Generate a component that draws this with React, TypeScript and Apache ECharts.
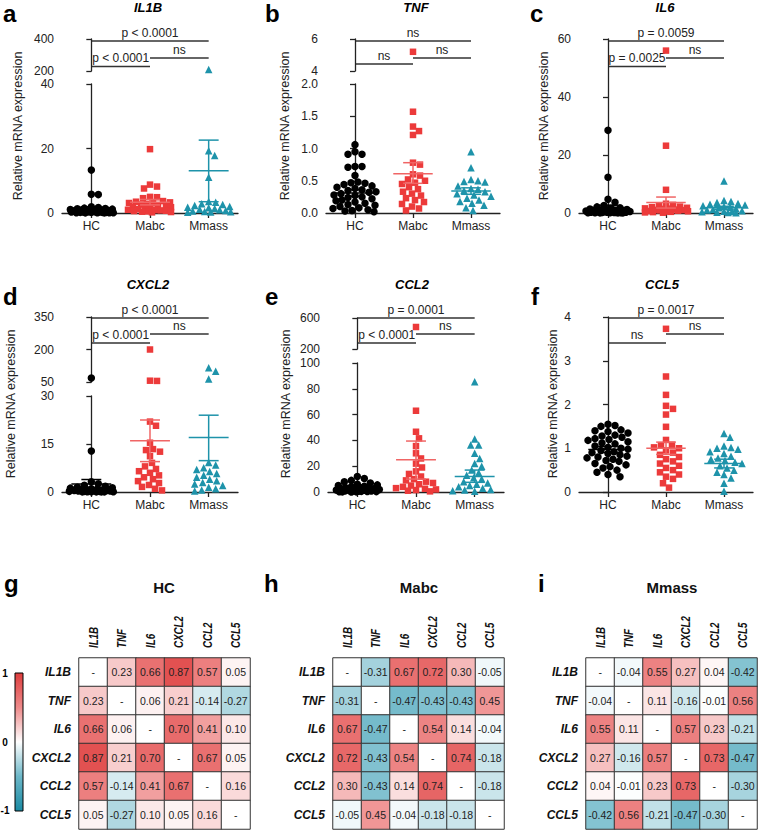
import React, { useEffect, useRef } from 'react';
import * as echarts from 'echarts';

const FONT = 'Liberation Sans, Arial, Helvetica, sans-serif';

const GROUPS = ['HC', 'Mabc', 'Mmass'];
const GENES = ['IL1B', 'TNF', 'IL6', 'CXCL2', 'CCL2', 'CCL5'];

// ---------- IL1B ----------
const IL1B_HC = [13.3, 5.8, 5.7, 1.9, 1.7, 1.5, 1.4, 1.3, 1.2, 1.1, 1.0, 1.0, 0.9, 0.9, 0.8, 0.8, 0.7, 0.7, 0.6, 0.6, 0.5, 0.5, 0.5, 0.4, 0.4, 0.4, 0.3, 0.3, 0.3, 0.2, 0.2, 0.2, 0.2, 0.1, 0.1, 0.1, 0.1, 0.05, 0.05];
const IL1B_MABC = [19.8, 8.8, 8.2, 7.6, 5.0, 4.9, 4.6, 3.7, 3.5, 3.3, 3.1, 3.0, 2.8, 2.6, 2.4, 2.2, 2.0, 1.8, 1.6, 1.4, 1.2, 1.0, 0.9, 0.8, 0.7, 0.6, 0.5, 0.4, 0.3, 0.2];
const IL1B_MMASS = [210, 19.3, 17.8, 11.1, 3.6, 3.3, 2.9, 2.6, 2.3, 2.0, 1.8, 1.6, 1.4, 1.2, 1.0, 0.8, 0.6, 0.5, 0.4, 0.3, 0.2];
const IL1B_MEAN = [1.4, 3.3, 13.1];
const IL1B_LO = [0.9, 2.5, 3.5];
const IL1B_HI = [1.9, 4.2, 22.6];
const IL1B_TICKS_LOW = [0, 20, 40];
const IL1B_TICKS_HIGH = [200, 400];
const IL1B_P = ['p < 0.0001', 'p < 0.0001', 'ns'];

// ---------- TNF ----------
const TNF_HC = [1.06, 0.95, 0.91, 0.91, 0.72, 0.72, 0.71, 0.58, 0.48, 0.47, 0.46, 0.44, 0.42, 0.40, 0.38, 0.36, 0.35, 0.33, 0.32, 0.30, 0.28, 0.27, 0.25, 0.24, 0.22, 0.20, 0.19, 0.17, 0.15, 0.13, 0.12, 0.10, 0.08, 0.07, 0.05, 0.04, 0.03, 0.02];
const TNF_MABC = [5.2, 1.57, 1.34, 1.27, 1.21, 0.78, 0.75, 0.60, 0.58, 0.52, 0.50, 0.47, 0.45, 0.40, 0.37, 0.33, 0.30, 0.27, 0.23, 0.20, 0.17, 0.14, 0.10, 0.07, 0.04];
const TNF_MMASS = [0.95, 0.70, 0.52, 0.50, 0.49, 0.48, 0.42, 0.38, 0.37, 0.35, 0.33, 0.30, 0.28, 0.26, 0.23, 0.20, 0.18, 0.15, 0.12, 0.08, 0.04];
const TNF_MEAN = [0.31, 0.61, 0.34];
const TNF_LO = [0.26, 0.46, 0.29];
const TNF_HI = [0.36, 0.78, 0.39];
const TNF_TICKS_LOW = [0, 0.5, 1.0, 1.5, 2.0];
const TNF_TICKS_HIGH = [4, 6];
const TNF_P = ['ns', 'ns', 'ns'];

// ---------- IL6 ----------
const IL6_HC = [28.5, 12.3, 4.7, 3.7, 2.6, 2.1, 1.8, 1.6, 1.4, 1.2, 1.1, 1.0, 0.9, 0.8, 0.8, 0.7, 0.6, 0.6, 0.5, 0.5, 0.4, 0.4, 0.3, 0.3, 0.3, 0.2, 0.2, 0.2, 0.1, 0.1, 0.1, 0.1, 0.05, 0.05, 0.05];
const IL6_MABC = [56, 23.2, 8.0, 3.2, 2.8, 2.5, 2.2, 2.0, 1.8, 1.6, 1.5, 1.4, 1.2, 1.1, 1.0, 0.9, 0.8, 0.7, 0.6, 0.5, 0.4, 0.3, 0.2, 0.1];
const IL6_MMASS = [11.0, 4.3, 4.0, 3.6, 3.3, 3.0, 2.8, 2.5, 2.2, 2.0, 1.8, 1.5, 1.2, 1.0, 0.8, 0.6, 0.5, 0.4, 0.3, 0.2, 0.1];
const IL6_MEAN = [1.9, 3.6, 1.8];
const IL6_LO = [1.1, 1.7, 1.3];
const IL6_HI = [2.7, 5.5, 2.3];
const IL6_TICKS = [0, 20, 40, 60];
const IL6_P = ['p = 0.0059', 'p = 0.0025', 'ns'];

// ---------- CXCL2 ----------
const CXCL2_HC = [68, 12.8, 3.2, 2.6, 2.1, 1.8, 1.5, 1.3, 1.2, 1.0, 0.9, 0.8, 0.7, 0.6, 0.5, 0.5, 0.4, 0.4, 0.3, 0.3, 0.2, 0.2, 0.2, 0.1, 0.1, 0.1, 0.05, 0.05, 0.05, 0.05];
const CXCL2_MABC = [200, 56, 55, 22, 20.7, 15.4, 13.4, 13.1, 12.6, 11.2, 9.1, 8.0, 7.2, 6.5, 6.0, 5.2, 4.6, 4.0, 3.4, 2.8, 2.2, 1.6, 1.0, 0.5];
const CXCL2_MMASS = [116, 100, 64, 9.2, 8.4, 7.6, 7.0, 6.4, 5.8, 5.2, 4.6, 4.0, 3.5, 3.0, 2.5, 2.0, 1.5, 1.0, 0.6, 0.3];
const CXCL2_MEAN = [2.5, 16, 17];
const CXCL2_LO = [1.0, 9.5, 9.8];
const CXCL2_HI = [3.9, 22.5, 24];
const CXCL2_TICKS_LOW = [0, 15, 30];
const CXCL2_TICKS_HIGH = [50, 200, 350];
const CXCL2_P = ['p < 0.0001', 'p < 0.0001', 'ns'];

// ---------- CCL2 ----------
const CCL2_HC = [12, 10.5, 9, 8, 7, 6, 5.5, 5, 4.5, 4, 3.5, 3.2, 3, 2.6, 2.4, 2.1, 1.9, 1.6, 1.4, 1.2, 1.0, 0.9, 0.8, 0.6, 0.5, 0.4, 0.3, 0.2, 0.1, 0.1, 0.05];
const CCL2_MABC = [484, 63, 46.7, 41.6, 35.6, 30, 26, 22, 19, 16, 14, 12, 10, 9, 8, 7, 6, 5, 4, 3, 2.5, 2, 1.5, 1, 0.5];
const CCL2_MMASS = [85.5, 41, 36.4, 36.4, 30, 26, 22, 20, 17, 15, 13, 11, 10, 8, 7, 6, 5, 4, 3, 2, 1.5, 1, 0.5];
const CCL2_MEAN = [3, 25, 12];
const CCL2_LO = [2.1, 10, 7.5];
const CCL2_HI = [3.9, 39.5, 17];
const CCL2_TICKS_LOW = [0, 20, 40, 60, 80, 100];
const CCL2_TICKS_HIGH = [200, 600];
const CCL2_P = ['p = 0.0001', 'p < 0.0001', 'ns'];

// ---------- CCL5 ----------
const CCL5_HC = [1.55, 1.52, 1.50, 1.42, 1.40, 1.38, 1.35, 1.30, 1.28, 1.25, 1.22, 1.20, 1.18, 1.15, 1.12, 1.10, 1.05, 1.02, 1.00, 0.98, 0.95, 0.92, 0.90, 0.88, 0.85, 0.82, 0.80, 0.78, 0.75, 0.72, 0.70, 0.65, 0.62, 0.58, 0.55, 0.50, 0.45, 0.40, 0.35];
const CCL5_MABC = [3.73, 2.64, 2.22, 1.97, 1.90, 1.77, 1.49, 1.19, 1.08, 1.07, 1.02, 1.0, 0.95, 0.9, 0.85, 0.8, 0.75, 0.7, 0.65, 0.6, 0.55, 0.5, 0.45, 0.4, 0.35, 0.3, 0.2, 0.1];
const CCL5_MMASS = [1.34, 1.25, 1.05, 1.02, 1.0, 0.98, 0.92, 0.88, 0.82, 0.78, 0.75, 0.72, 0.68, 0.65, 0.6, 0.55, 0.5, 0.45, 0.4, 0.32, 0.2, 0.02];
const CCL5_MEAN = [0.97, 1.0, 0.65];
const CCL5_LO = [0.9, 0.86, 0.55];
const CCL5_HI = [1.04, 1.14, 0.75];
const CCL5_TICKS = [0, 1, 2, 3, 4];
const CCL5_P = ['p = 0.0017', 'ns', 'ns'];

// ---------- correlation matrices (rows/cols in GENES order, null = diagonal) ----------
const CORR_HC = [
  [null, 0.23, 0.66, 0.87, 0.57, 0.05],
  [0.23, null, 0.06, 0.21, -0.14, -0.27],
  [0.66, 0.06, null, 0.70, 0.41, 0.10],
  [0.87, 0.21, 0.70, null, 0.67, 0.05],
  [0.57, -0.14, 0.41, 0.67, null, 0.16],
  [0.05, -0.27, 0.10, 0.05, 0.16, null],
];
const CORR_MABC = [
  [null, -0.31, 0.67, 0.72, 0.30, -0.05],
  [-0.31, null, -0.47, -0.43, -0.43, 0.45],
  [0.67, -0.47, null, 0.54, 0.14, -0.04],
  [0.72, -0.43, 0.54, null, 0.74, -0.18],
  [0.30, -0.43, 0.14, 0.74, null, -0.18],
  [-0.05, 0.45, -0.04, -0.18, -0.18, null],
];
const CORR_MMASS = [
  [null, -0.04, 0.55, 0.27, 0.04, -0.42],
  [-0.04, null, 0.11, -0.16, -0.01, 0.56],
  [0.55, 0.11, null, 0.57, 0.23, -0.21],
  [0.27, -0.16, 0.57, null, 0.73, -0.47],
  [0.04, -0.01, 0.23, 0.73, null, -0.30],
  [-0.42, 0.56, -0.21, -0.47, -0.30, null],
];
const COLORBAR_TICKS = ['1', '0', '-1'];

// ---------- styling ----------
const PT_COLORS = ['#000000', '#EC3A3A', '#1E93AA'];
const ERR_COLORS = ['#000000', '#F06565', '#1E93AA'];
const SYMBOLS = ['circle', 'rect', 'triangle'];
const SIZES = [7.5, 6.5, 7.5];
const HEAT_COLORS = ['#1a8aa3', '#6cb7c8', '#ffffff', '#ee8a8a', '#de3d3d'];
const INK = '#222';

type Seg = { min: number; max: number; top: number; bottom: number; ticks: number[]; dec: number };
type Panel = {
  letter: string; gene: string; left: number; width: number; segs: Seg[];
  data: number[][]; mean: number[]; lo: number[]; hi: number[]; p: string[];
  titleX: number; titleY: number; letterX: number; letterY: number;
  nameX: number; nameY: number; bTop: number; bLeft: number; bRight: number;
};

const PANELS: Panel[] = [
  {
    letter: 'a', gene: 'IL1B', left: 62, width: 176,
    segs: [{ min: 0, max: 40, top: 84, bottom: 213, ticks: IL1B_TICKS_LOW, dec: 0 }, { min: 200, max: 400, top: 39, bottom: 71, ticks: IL1B_TICKS_HIGH, dec: 0 }],
    data: [IL1B_HC, IL1B_MABC, IL1B_MMASS], mean: IL1B_MEAN, lo: IL1B_LO, hi: IL1B_HI, p: IL1B_P,
    titleX: 148, titleY: 7.5, letterX: 3, letterY: 13, nameX: 18, nameY: 126, bTop: 41, bLeft: 66.5, bRight: 58,
  },
  {
    letter: 'b', gene: 'TNF', left: 326, width: 174,
    segs: [{ min: 0, max: 2, top: 84, bottom: 213, ticks: TNF_TICKS_LOW, dec: 1 }, { min: 4, max: 6, top: 39, bottom: 71, ticks: TNF_TICKS_HIGH, dec: 0 }],
    data: [TNF_HC, TNF_MABC, TNF_MMASS], mean: TNF_MEAN, lo: TNF_LO, hi: TNF_HI, p: TNF_P,
    titleX: 416, titleY: 7.5, letterX: 265, letterY: 13, nameX: 285, nameY: 126, bTop: 41, bLeft: 64, bRight: 58,
  },
  {
    letter: 'c', gene: 'IL6', left: 579, width: 174,
    segs: [{ min: 0, max: 60, top: 39, bottom: 213, ticks: IL6_TICKS, dec: 0 }],
    data: [IL6_HC, IL6_MABC, IL6_MMASS], mean: IL6_MEAN, lo: IL6_LO, hi: IL6_HI, p: IL6_P,
    titleX: 665, titleY: 7.5, letterX: 530, letterY: 13, nameX: 544, nameY: 126, bTop: 41, bLeft: 66.5, bRight: 58,
  },
  {
    letter: 'd', gene: 'CXCL2', left: 62, width: 176,
    segs: [{ min: 0, max: 30, top: 396, bottom: 492, ticks: CXCL2_TICKS_LOW, dec: 0 }, { min: 50, max: 350, top: 317, bottom: 382, ticks: CXCL2_TICKS_HIGH, dec: 0 }],
    data: [CXCL2_HC, CXCL2_MABC, CXCL2_MMASS], mean: CXCL2_MEAN, lo: CXCL2_LO, hi: CXCL2_HI, p: CXCL2_P,
    titleX: 148, titleY: 284.5, letterX: 3, letterY: 296, nameX: 11, nameY: 404, bTop: 318, bLeft: 343, bRight: 334,
  },
  {
    letter: 'e', gene: 'CCL2', left: 328, width: 176,
    segs: [{ min: 0, max: 100, top: 363, bottom: 492, ticks: CCL2_TICKS_LOW, dec: 0 }, { min: 200, max: 600, top: 318, bottom: 349, ticks: CCL2_TICKS_HIGH, dec: 0 }],
    data: [CCL2_HC, CCL2_MABC, CCL2_MMASS], mean: CCL2_MEAN, lo: CCL2_LO, hi: CCL2_HI, p: CCL2_P,
    titleX: 412, titleY: 284.5, letterX: 265, letterY: 296, nameX: 286, nameY: 404, bTop: 318, bLeft: 343, bRight: 334,
  },
  {
    letter: 'f', gene: 'CCL5', left: 579, width: 174,
    segs: [{ min: 0, max: 4, top: 317, bottom: 492, ticks: CCL5_TICKS, dec: 0 }],
    data: [CCL5_HC, CCL5_MABC, CCL5_MMASS], mean: CCL5_MEAN, lo: CCL5_LO, hi: CCL5_HI, p: CCL5_P,
    titleX: 662, titleY: 284.5, letterX: 531, letterY: 296, nameX: 553, nameY: 404, bTop: 318, bLeft: 343, bRight: 334,
  },
];

const HEATS = [
  { letter: 'g', title: 'HC', m: CORR_HC, left: 79, letterX: 4, titleX: 164 },
  { letter: 'h', title: 'Mabc', m: CORR_MABC, left: 333, letterX: 264, titleX: 419 },
  { letter: 'i', title: 'Mmass', m: CORR_MMASS, left: 586, letterX: 538, titleX: 672 },
];
const HEAT_TOP = 658;
const HEAT_SIZE = 171;

function swarm(values: number[], toPx: (v: number) => number, d: number, maxW: number): number[] {
  const placed: { x: number; y: number }[] = [];
  const order = values.map((_, i) => i).sort((a, b) => values[b] - values[a]);
  const offs = new Array(values.length).fill(0);
  const cands: number[] = [0];
  for (let k = 1; k <= maxW; k++) { cands.push(k); cands.push(-k); }
  for (const i of order) {
    const y = toPx(values[i]);
    let best = 0;
    let bestScore = -Infinity;
    for (const c of cands) {
      let minD = Infinity;
      for (const p of placed) {
        const dd = Math.hypot(p.x - c, p.y - y);
        if (dd < minD) minD = dd;
      }
      if (minD >= d) { best = c; break; }
      if (minD > bestScore + 0.5) { bestScore = minD; best = c; }
    }
    placed.push({ x: best, y });
    offs[i] = best;
  }
  return offs;
}

function txt(x: number, y: number, text: string, extra: any = {}, rotation = 0, scaleX = 1): any {
  return {
    type: 'text', x, y, rotation, scaleX, silent: true,
    style: { text, fontFamily: FONT, fontSize: 12, fill: INK, align: 'center', verticalAlign: 'middle', ...extra },
  };
}
function hline(x1: number, x2: number, y: number): any {
  return { type: 'line', silent: true, shape: { x1, y1: y, x2, y2: y }, style: { stroke: '#333', lineWidth: 1.3 } };
}

function buildOption(): any {
  const grid: any[] = [];
  const xAxis: any[] = [];
  const yAxis: any[] = [];
  const series: any[] = [];
  const graphic: any[] = [];
  const axisLineStyle = { color: INK, width: 1.3 };

  PANELS.forEach((p) => {
    const spacing = p.width / 3;
    const centers = [0, 1, 2].map((g) => p.left + spacing * (g + 0.5));
    const gIdx: number[] = [];
    p.segs.forEach((s, si) => {
      const gi = grid.length;
      gIdx.push(gi);
      grid.push({ left: p.left, top: s.top, width: p.width, height: s.bottom - s.top, containLabel: false });
      xAxis.push({
        gridIndex: gi, type: 'value', min: -0.5, max: 2.5, show: si === 0,
        axisLine: { show: true, lineStyle: axisLineStyle },
        axisTick: { show: true, length: 5, customValues: [0, 1, 2], lineStyle: axisLineStyle },
        axisLabel: {
          customValues: [0, 1, 2], formatter: (v: number) => GROUPS[Math.round(v)] || '',
          margin: 7, fontSize: 12, color: INK, fontFamily: FONT,
        },
        splitLine: { show: false },
      });
      yAxis.push({
        gridIndex: gi, type: 'value', min: s.min, max: s.max,
        axisLine: { show: true, lineStyle: axisLineStyle },
        axisTick: { show: true, length: 5, customValues: s.ticks, lineStyle: axisLineStyle },
        axisLabel: {
          customValues: s.ticks, formatter: (v: number) => v.toFixed(s.dec),
          margin: 8, fontSize: 12, color: INK, fontFamily: FONT,
        },
        splitLine: { show: false },
      });
    });
    const toPx = (v: number) => {
      for (const s of p.segs) if (v >= s.min && v <= s.max) return s.top + ((s.max - v) / (s.max - s.min)) * (s.bottom - s.top);
      return 0;
    };
    p.data.forEach((vals, g) => {
      const offs = swarm(vals, toPx, 7, 22);
      p.segs.forEach((s, si) => {
        const pts = vals
          .map((v, i) => [g + offs[i] / spacing, v])
          .filter((pt) => pt[1] >= s.min && pt[1] <= s.max);
        series.push({
          type: 'scatter', xAxisIndex: gIdx[si], yAxisIndex: gIdx[si], data: pts,
          symbol: SYMBOLS[g], symbolSize: SIZES[g], itemStyle: { color: PT_COLORS[g], opacity: 1 },
          clip: false, silent: true, z: 2,
        });
      });
    });
    series.push({
      type: 'custom', xAxisIndex: gIdx[0], yAxisIndex: gIdx[0], clip: false, silent: true, z: 3,
      data: [0, 1, 2].map((g) => [g, p.mean[g], p.lo[g], p.hi[g]]),
      renderItem: (_params: any, api: any) => {
        const g = api.value(0) as number;
        const m = api.coord([g, api.value(1)]);
        const lo = api.coord([g, api.value(2)]);
        const hi = api.coord([g, api.value(3)]);
        const mw = api.size([0.34, 0])[0];
        const cw = api.size([0.17, 0])[0];
        const st = { stroke: ERR_COLORS[g], lineWidth: 1.5 };
        return {
          type: 'group',
          children: [
            { type: 'line', shape: { x1: m[0] - mw, y1: m[1], x2: m[0] + mw, y2: m[1] }, style: st },
            { type: 'line', shape: { x1: lo[0], y1: lo[1], x2: hi[0], y2: hi[1] }, style: st },
            { type: 'line', shape: { x1: hi[0] - cw, y1: hi[1], x2: hi[0] + cw, y2: hi[1] }, style: st },
            { type: 'line', shape: { x1: lo[0] - cw, y1: lo[1], x2: lo[0] + cw, y2: lo[1] }, style: st },
          ],
        };
      },
    });
    // annotations
    graphic.push(txt(p.letterX, p.letterY, p.letter, { fontSize: 24, fontWeight: 'bold', fill: '#000', align: 'left' }));
    graphic.push(txt(p.titleX, p.titleY, p.gene, { fontSize: 13, fontWeight: 'bold', fontStyle: 'italic', fill: '#000' }));
    graphic.push(txt(p.nameX, p.nameY, 'Relative mRNA expression', { fontSize: 12.5 }, Math.PI / 2));
    graphic.push(hline(centers[0], centers[2], p.bTop));
    graphic.push(txt((centers[0] + centers[2]) / 2, p.bTop - 8.5, p.p[0]));
    graphic.push(hline(centers[0], centers[1], p.bLeft));
    graphic.push(txt((centers[0] + centers[1]) / 2, p.bLeft - 8.5, p.p[1]));
    graphic.push(hline(centers[1], centers[2], p.bRight));
    graphic.push(txt((centers[1] + centers[2]) / 2, p.bRight - 8.5, p.p[2]));
  });

  const heatSeries: number[] = [];
  const labelStyle = { fontFamily: FONT, fontSize: 12, fontWeight: 'bold', fontStyle: 'italic', color: '#111' };
  HEATS.forEach((h) => {
    const gi = grid.length;
    grid.push({ left: h.left, top: HEAT_TOP, width: HEAT_SIZE, height: HEAT_SIZE, containLabel: false });
    xAxis.push({
      gridIndex: gi, type: 'category', data: GENES, position: 'top',
      axisLine: { show: false }, axisTick: { show: false }, splitLine: { show: false },
      axisLabel: { show: false },
    });
    yAxis.push({
      gridIndex: gi, type: 'category', data: GENES, inverse: true,
      axisLine: { show: false }, axisTick: { show: false }, splitLine: { show: false },
      axisLabel: { ...labelStyle, margin: 8, interval: 0 },
    });
    const data: any[] = [];
    h.m.forEach((row, r) => row.forEach((v, c) => {
      data.push(v === null ? { value: [c, r, 0], diag: true } : { value: [c, r, v] });
    }));
    heatSeries.push(series.length);
    series.push({
      type: 'heatmap', xAxisIndex: gi, yAxisIndex: gi, data, silent: true,
      emphasis: { disabled: true },
      itemStyle: { borderColor: '#333', borderWidth: 1 },
      label: {
        show: true, fontFamily: FONT, fontSize: 10.5, color: INK,
        formatter: (pr: any) => (pr.data && pr.data.diag ? '-' : (pr.value[2] as number).toFixed(2)),
      },
    });
    // column labels (rotated, reading bottom-to-top, starting just above the grid)
    const cw = HEAT_SIZE / GENES.length;
    GENES.forEach((g, c) => {
      graphic.push(txt(h.left + cw * (c + 0.5), HEAT_TOP - 10, g,
        { fontSize: 12.5, fontWeight: 'bold', fontStyle: 'italic', fill: '#111', align: 'left' }, Math.PI / 2, 0.78));
    });
    graphic.push(txt(h.letterX, 583, h.letter, { fontSize: 24, fontWeight: 'bold', fill: '#000', align: 'left' }));
    graphic.push(txt(h.titleX, 587, h.title, { fontSize: 15, fontWeight: 'bold', fill: '#111' }));
  });

  // colour bar
  graphic.push({
    type: 'rect', silent: true, shape: { x: 15, y: 673, width: 8, height: 138 },
    style: {
      fill: {
        type: 'linear', x: 0, y: 0, x2: 0, y2: 1,
        colorStops: HEAT_COLORS.slice().reverse().map((c, i) => ({ offset: i / (HEAT_COLORS.length - 1), color: c })),
      },
      stroke: '#000', lineWidth: 1,
    },
  });
  [673, 742, 810].forEach((y, i) => {
    graphic.push(txt(5, y, COLORBAR_TICKS[i], { fontSize: 10, fontWeight: 'bold', fill: '#000' }));
  });

  return {
    animation: false,
    textStyle: { fontFamily: FONT },
    grid, xAxis, yAxis, series, graphic,
    visualMap: {
      type: 'continuous', show: false, min: -1, max: 1, dimension: 2,
      seriesIndex: heatSeries, inRange: { color: HEAT_COLORS },
    },
  };
}

export default function App() {
  const ref = useRef<HTMLDivElement>(null);
  useEffect(() => {
    if (!ref.current) return;
    const chart = echarts.init(ref.current, null, { renderer: 'svg' });
    chart.setOption(buildOption());
    return () => chart.dispose();
  }, []);
  return (
    <div
      ref={ref}
      style={{ position: 'absolute', left: 0, top: 0, width: 758, height: 830, background: '#fff' }}
    />
  );
}
